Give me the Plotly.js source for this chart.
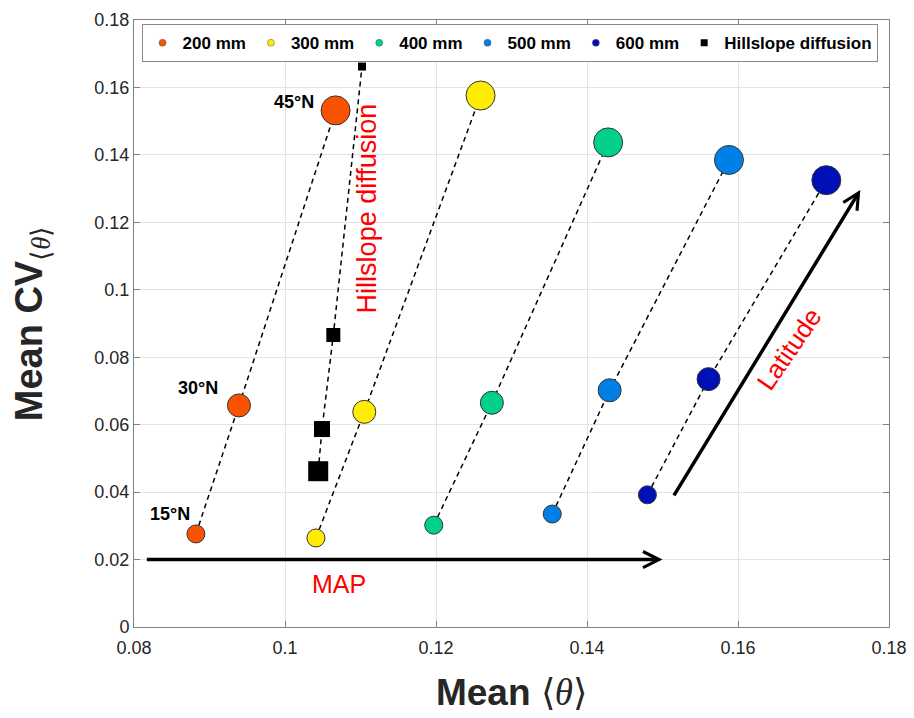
<!DOCTYPE html>
<html>
<head>
<meta charset="utf-8">
<script src="https://cdn.plot.ly/plotly-3.0.1.min.js"></script>
<style>html,body{margin:0;padding:0;background:#fff;}#chart{width:914px;height:718px;}</style>
</head>
<body>
<div id="chart"></div>
<script>
// ---- data ----
const latitudeLabels = ['15°N', '30°N', '45°N'];
const seriesNames = ['200 mm', '300 mm', '400 mm', '500 mm', '600 mm'];
const meanTheta200 = [0.0882, 0.0939, 0.1067];
const meanCV200    = [0.0276, 0.0657, 0.1532];
const meanTheta300 = [0.1041, 0.1105, 0.1259];
const meanCV300    = [0.0264, 0.0638, 0.1576];
const meanTheta400 = [0.1197, 0.1274, 0.1428];
const meanCV400    = [0.0302, 0.0665, 0.1437];
const meanTheta500 = [0.1354, 0.1430, 0.1588];
const meanCV500    = [0.0335, 0.0702, 0.1385];
const meanTheta600 = [0.1480, 0.1561, 0.1717];
const meanCV600    = [0.0392, 0.0735, 0.1325];
const hillslopeName = 'Hillslope diffusion';
const hillTheta = [0.1044, 0.1049, 0.1064, 0.1102];
const hillCV    = [0.0462, 0.0587, 0.0866, 0.1662];
const xTicks = [0.08, 0.1, 0.12, 0.14, 0.16, 0.18];
const xTickText = ['0.08', '0.1', '0.12', '0.14', '0.16', '0.18'];
const yTicks = [0, 0.02, 0.04, 0.06, 0.08, 0.1, 0.12, 0.14, 0.16, 0.18];
const yTickText = ['0', '0.02', '0.04', '0.06', '0.08', '0.1', '0.12', '0.14', '0.16', '0.18'];
// arrow endpoints (annotation positions, data coords)
const mapArrow = {from: [0.0815, 0.02], to: [0.1500, 0.02]};
const latArrow = {from: [0.1514, 0.0386], to: [0.1762, 0.1296]};

// ---- styles ----
const colors = ['#fa5300', '#ffec00', '#00d08c', '#0080e6', '#0010b8'];
const latSizes = [18, 23, 29];
const hillSizes = [20, 16, 14, 8];
const FONT = 'Liberation Sans, Arial, sans-serif';

const xs = [meanTheta200, meanTheta300, meanTheta400, meanTheta500, meanTheta600];
const ys = [meanCV200, meanCV300, meanCV400, meanCV500, meanCV600];

const traces = [];
xs.forEach((x, i) => {
  traces.push({
    type: 'scatter', mode: 'lines+markers', x: x, y: ys[i], name: seriesNames[i],
    showlegend: false,
    line: {color: '#000', width: 1.5, dash: '5px,4px'},
    marker: {color: colors[i], size: latSizes, opacity: 1, line: {color: '#333', width: 1}}
  });
});
traces.push({
  type: 'scatter', mode: 'lines+markers', x: hillTheta, y: hillCV, name: hillslopeName,
  showlegend: false,
  line: {color: '#000', width: 1.5, dash: '5px,4px'},
  marker: {color: '#000', symbol: 'square', size: hillSizes, opacity: 1, line: {width: 0}}
});
// legend entries
seriesNames.forEach((n, i) => {
  traces.push({type: 'scatter', mode: 'markers', x: [null], y: [null], name: n,
    marker: {color: colors[i], size: 7, line: {color: '#555', width: 0.5}}});
});
traces.push({type: 'scatter', mode: 'markers', x: [null], y: [null], name: hillslopeName,
  marker: {color: '#000', symbol: 'square', size: 7}});

const latShifts = [[-4, 20], [-19, 17], [-20, 8]];
const annotations = latitudeLabels.map((t, i) => ({
  x: meanTheta200[i], y: meanCV200[i], xref: 'x', yref: 'y', text: '<b>' + t + '</b>',
  showarrow: false, xanchor: 'right', yanchor: 'middle', xshift: latShifts[i][0], yshift: latShifts[i][1],
  font: {family: FONT, size: 18, color: '#000'}
}));
annotations.push({x: mapArrow.to[0], y: mapArrow.to[1], ax: mapArrow.from[0], ay: mapArrow.from[1],
  xref: 'x', yref: 'y', axref: 'x', ayref: 'y', text: '', showarrow: true,
  arrowhead: 5, arrowwidth: 3.5, arrowsize: 0.9, arrowcolor: '#000', standoff: 0});
annotations.push({x: latArrow.to[0], y: latArrow.to[1], ax: latArrow.from[0], ay: latArrow.from[1],
  xref: 'x', yref: 'y', axref: 'x', ayref: 'y', text: '', showarrow: true,
  arrowhead: 5, arrowwidth: 3.5, arrowsize: 0.9, arrowcolor: '#000', standoff: 0});
annotations.push({x: 0.1072, y: 0.0128, xref: 'x', yref: 'y', text: 'MAP', showarrow: false,
  font: {family: FONT, size: 25, color: '#ff0000'}});
annotations.push({x: 0.1108, y: 0.1240, xref: 'x', yref: 'y', text: 'Hillslope diffusion', showarrow: false,
  textangle: -90, font: {family: FONT, size: 27, color: '#ff0000'}});
annotations.push({x: 0.1668, y: 0.0824, xref: 'x', yref: 'y', text: 'Latitude', showarrow: false,
  textangle: -55.5, font: {family: FONT, size: 26, color: '#ff0000'}});

const axisCommon = {
  showgrid: true, gridcolor: '#e3e3e3', gridwidth: 1, zeroline: false,
  showline: true, linecolor: '#808080', linewidth: 1, mirror: 'ticks',
  ticks: 'inside', ticklen: 6, tickcolor: '#808080', tickwidth: 1,
  tickfont: {family: FONT, size: 18, color: '#262626'}
};

const layout = {
  width: 914, height: 718,
  margin: {l: 134, r: 25, t: 20, b: 91},
  paper_bgcolor: '#fff', plot_bgcolor: '#fff',
  font: {family: FONT},
  showlegend: true,
  legend: {orientation: 'h', x: 0.01, xanchor: 'left', y: 0.993, yanchor: 'top',
    bgcolor: '#fff', bordercolor: '#8a8a8a', borderwidth: 1,
    font: {family: FONT, size: 17, color: '#000', weight: 'bold'},
    itemclick: false},
  xaxis: Object.assign({}, axisCommon, {
    range: [0.08, 0.18], tickvals: xTicks, ticktext: xTickText, ticklabelstandoff: 4,
    title: {text: '<b>Mean</b> <span style="font-family:Liberation Serif;">⟨<i>θ</i>⟩</span>',
      font: {family: FONT, size: 37, color: '#262626'}, standoff: 22}
  }),
  yaxis: Object.assign({}, axisCommon, {
    range: [0, 0.18], tickvals: yTicks, ticktext: yTickText,
    title: {text: '<b>Mean CV</b><sub><span style="font-family:Liberation Serif;">⟨<i>θ</i>⟩</span></sub>',
      font: {family: FONT, size: 38, color: '#262626'}, standoff: 40}
  }),
  annotations: annotations
};

Plotly.newPlot('chart', traces, layout, {displayModeBar: false, staticPlot: true});
</script>
</body>
</html>
